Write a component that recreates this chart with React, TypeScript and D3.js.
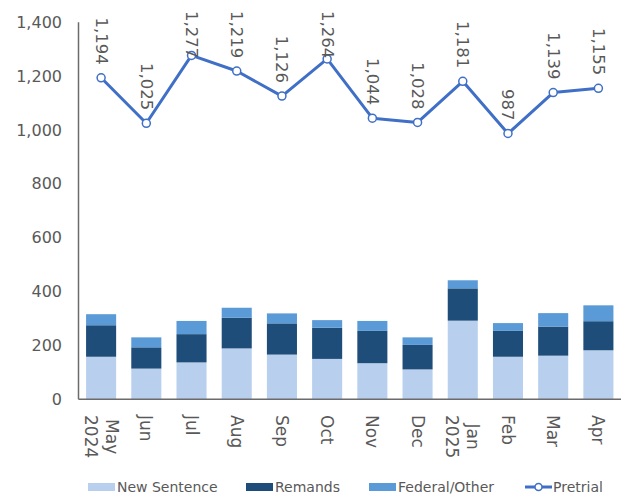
import React, { useEffect, useRef } from "react";
import * as d3 from "d3";

const months: string[][] = [
  ["May", "2024"], ["Jun"], ["Jul"], ["Aug"], ["Sep"], ["Oct"], ["Nov"], ["Dec"],
  ["Jan", "2025"], ["Feb"], ["Mar"], ["Apr"],
];
const newSentence = [158, 114, 137, 189, 166, 150, 134, 111, 292, 158, 162, 182];
const remands = [117, 79, 105, 114, 116, 116, 120, 91, 120, 96, 108, 108];
const federal = [41, 37, 49, 37, 37, 28, 37, 28, 30, 29, 50, 59];
const pretrial = [1194, 1025, 1277, 1219, 1126, 1264, 1044, 1028, 1181, 987, 1139, 1155];
const yTicks = [0, 200, 400, 600, 800, 1000, 1200, 1400];
const seriesNames = ["New Sentence", "Remands", "Federal/Other"];
const lineName = "Pretrial";

const W = 623;
const H = 496;
const colors = ["#B8D0EE", "#1F4D7A", "#5A9AD6"];
const lineColor = "#3F6FC6";
const textColor = "#595959";
const font = "DejaVu Sans";

export default function App() {
  const ref = useRef<SVGSVGElement | null>(null);

  useEffect(() => {
    const svg = d3.select(ref.current);
    svg.selectAll("*").remove();

    const x0 = 78.5, x1 = 621, yTop = 22.3, yBot = 399.3;
    const keys = months.map((m) => m.join(" "));
    const x = d3.scaleBand<string>().domain(keys).range([x0, x1]).paddingInner(0.335).paddingOuter(0.1675);
    const y = d3.scaleLinear().domain([0, 1400]).range([yBot, yTop]);

    const rows = keys.map((k, i) => ({ key: k, a: newSentence[i], b: remands[i], c: federal[i] }));
    const stack = d3.stack<any>().keys(["a", "b", "c"])(rows);

    const g = svg.append("g");
    stack.forEach((layer, li) => {
      g.append("g")
        .attr("fill", colors[li])
        .selectAll("rect")
        .data(layer)
        .join("rect")
        .attr("x", (d: any) => x(d.data.key)!)
        .attr("width", x.bandwidth())
        .attr("y", (d: any) => y(d[1]))
        .attr("height", (d: any) => y(d[0]) - y(d[1]));
    });

    // axes
    g.append("line").attr("x1", x0).attr("x2", x0).attr("y1", yTop).attr("y2", yBot)
      .attr("stroke", "#6b6b6b").attr("stroke-width", 1.5);
    g.append("line").attr("x1", x0).attr("x2", x1).attr("y1", yBot).attr("y2", yBot)
      .attr("stroke", "#6b6b6b").attr("stroke-width", 1.5);

    g.append("g").selectAll("text").data(yTicks).join("text")
      .attr("x", 62).attr("y", (d) => y(d))
      .attr("text-anchor", "end").attr("dominant-baseline", "central")
      .attr("font-family", font).attr("font-size", 16).attr("fill", textColor)
      .text((d) => d3.format(",")(d));

    // x labels
    months.forEach((lines, i) => {
      const cx = x(keys[i])! + x.bandwidth() / 2;
      const texts = lines.map((ln) =>
        g.append("text").attr("font-family", font).attr("font-size", 17).attr("fill", textColor)
          .attr("text-anchor", "middle").attr("dominant-baseline", "central").text(ln)
      );
      const lens = texts.map((t) => (t.node() as SVGTextElement).getComputedTextLength());
      const maxLen = Math.max(...lens);
      const n = lines.length;
      texts.forEach((t, li) => {
        const tx = cx + ((n - 1) / 2 - li) * 21;
        const ty = 415 + maxLen / 2;
        t.attr("transform", `translate(${tx},${ty}) rotate(90)`);
      });
    });

    // line
    const pts = pretrial.map((v, i) => [x(keys[i])! + x.bandwidth() / 2, y(v)] as [number, number]);
    g.append("path").attr("d", d3.line()(pts)!).attr("fill", "none")
      .attr("stroke", lineColor).attr("stroke-width", 3).attr("stroke-linejoin", "round");
    g.append("g").selectAll("circle").data(pts).join("circle")
      .attr("cx", (d) => d[0]).attr("cy", (d) => d[1]).attr("r", 4)
      .attr("fill", "white").attr("stroke", lineColor).attr("stroke-width", 1.5);

    // data labels
    pretrial.forEach((v, i) => {
      const [px, py] = pts[i];
      const t = g.append("text").attr("font-family", font).attr("font-size", 16.5).attr("fill", textColor)
        .attr("text-anchor", "start").attr("dominant-baseline", "central").text(d3.format(",")(v));
      const len = (t.node() as SVGTextElement).getComputedTextLength();
      const start = Math.max(11, py - 13 - len);
      t.attr("transform", `translate(${px},${start}) rotate(90)`);
    });

    // legend
    const ly = 487;
    const lg = svg.append("g").attr("font-family", font).attr("font-size", 14).attr("fill", textColor);
    const swX = [88, 246, 369];
    seriesNames.forEach((name, i) => {
      lg.append("rect").attr("x", swX[i]).attr("y", ly - 4).attr("width", 27).attr("height", 8).attr("fill", colors[i]);
      lg.append("text").attr("x", swX[i] + 29).attr("y", ly).attr("dominant-baseline", "central").text(name);
    });
    lg.append("line").attr("x1", 525).attr("x2", 552).attr("y1", ly).attr("y2", ly)
      .attr("stroke", lineColor).attr("stroke-width", 3);
    lg.append("circle").attr("cx", 538.5).attr("cy", ly).attr("r", 3.5)
      .attr("fill", "white").attr("stroke", lineColor).attr("stroke-width", 1.5);
    lg.append("text").attr("x", 553).attr("y", ly).attr("dominant-baseline", "central").text(lineName);
  }, []);

  return (
    <svg ref={ref} width={W} height={H}
      style={{ position: "absolute", left: 0, top: 0, background: "white" }} />
  );
}
